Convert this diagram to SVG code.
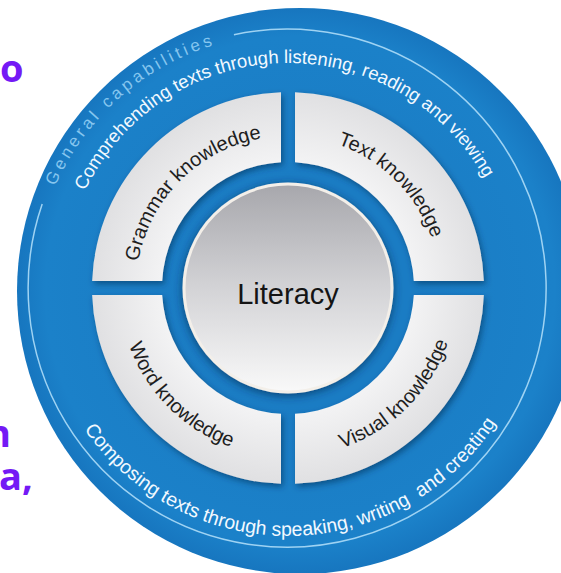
<svg xmlns="http://www.w3.org/2000/svg" xmlns:xlink="http://www.w3.org/1999/xlink" width="561" height="573" viewBox="0 0 561 573">
<style>
.frag{font-family:"Open Sans","DejaVu Sans",sans-serif;font-weight:700;font-size:38px;fill:#7419f5}
.ring{font-family:"Liberation Sans",Arial,sans-serif;fill:#f2f9ff}
.gen{font-family:"Liberation Sans",Arial,sans-serif;font-size:17px;letter-spacing:3.6px;fill:#86c6ef}
.seg{font-family:"Liberation Sans",Arial,sans-serif;font-size:20px;fill:#1e1e1e}
.segshape{fill:url(#segGrad);filter:url(#segShadow)}
</style>
<defs>
<radialGradient id="blueGrad" cx="300" cy="291" r="283" gradientUnits="userSpaceOnUse">
<stop offset="0.4" stop-color="#1a7cc4"/>
<stop offset="0.9" stop-color="#1b81c9"/>
<stop offset="1" stop-color="#1776bf"/>
</radialGradient>
<radialGradient id="segGrad" cx="288" cy="288" r="196" gradientUnits="userSpaceOnUse">
<stop offset="0.64" stop-color="#f3f3f4"/>
<stop offset="1" stop-color="#e0e0e2"/>
</radialGradient>
<linearGradient id="litGrad" x1="0" y1="0" x2="0" y2="1">
<stop offset="0" stop-color="#a7a7ac"/>
<stop offset="0.5" stop-color="#d3d3d6"/>
<stop offset="1" stop-color="#f9f9f9"/>
</linearGradient>
<filter id="segShadow" x="-20%" y="-20%" width="140%" height="140%">
<feDropShadow dx="2" dy="3" stdDeviation="3" flood-color="#06335a" flood-opacity="0.6"/>
</filter>
<filter id="litShadow" x="-20%" y="-20%" width="140%" height="140%">
<feDropShadow dx="0" dy="2" stdDeviation="5" flood-color="#052c4f" flood-opacity="0.7"/>
</filter>
<path id="pTop" d="M 63,288 A 225,225 0 0 1 513,288"/>
<path id="pGen" d="M 34,288 A 254,254 0 0 1 288,34"/>
<path id="pBot" d="M 40,288 A 248,248 0 0 0 536,288"/>
<path id="pGram" d="M 136,288 A 152,152 0 0 1 288,136"/>
<path id="pText" d="M 288,136 A 152,152 0 0 1 440,288"/>
<path id="pWord" d="M 119,288 A 169,169 0 0 0 288,457"/>
<path id="pVis" d="M 288,457 A 169,169 0 0 0 457,288"/>
</defs>
<rect width="561" height="573" fill="#ffffff"/>
<g id="fragments">
<text class="frag" x="0" y="82">o</text>
<text class="frag" x="-14" y="447">h</text>
<text class="frag" x="-1" y="490">a,</text>
</g>
<g id="outer-ring">
<circle cx="300" cy="291" r="283" fill="url(#blueGrad)"/>
<path d="M 233.94,34.7 A 259,259 0 1 1 42.2,204" fill="none" stroke="#9fd3f3" stroke-width="1.5"/>
<text class="gen"><textPath xlink:href="#pGen" startOffset="54%" text-anchor="middle">General capabilities</textPath></text>
<text class="ring" font-size="18.5"><textPath xlink:href="#pTop" startOffset="49%" text-anchor="middle">Comprehending texts through listening, reading and viewing</textPath></text>
<text class="ring" font-size="19.5" style="white-space:pre"><textPath xlink:href="#pBot" startOffset="50.5%" text-anchor="middle">Composing texts through speaking, writing  and creating</textPath></text>
</g>
<g id="grammar-knowledge">
<path class="segshape" d="M 92.13,281 A 196,196 0 0 1 281,92.13 L 281,162.19 A 126,126 0 0 0 162.19,281 Z"/>
<text class="seg"><textPath xlink:href="#pGram" startOffset="50%" text-anchor="middle">Grammar knowledge</textPath></text>
</g>
<g id="text-knowledge">
<path class="segshape" d="M 295,92.13 A 196,196 0 0 1 483.87,281 L 413.81,281 A 126,126 0 0 0 295,162.19 Z"/>
<text class="seg"><textPath xlink:href="#pText" startOffset="50%" text-anchor="middle">Text knowledge</textPath></text>
</g>
<g id="visual-knowledge">
<path class="segshape" d="M 483.87,295 A 196,196 0 0 1 295,483.87 L 295,413.81 A 126,126 0 0 0 413.81,295 Z"/>
<text class="seg"><textPath xlink:href="#pVis" startOffset="50%" text-anchor="middle">Visual knowledge</textPath></text>
</g>
<g id="word-knowledge">
<path class="segshape" d="M 281,483.87 A 196,196 0 0 1 92.13,295 L 162.19,295 A 126,126 0 0 0 281,413.81 Z"/>
<text class="seg"><textPath xlink:href="#pWord" startOffset="50%" text-anchor="middle">Word knowledge</textPath></text>
</g>
<g id="literacy">
<circle cx="288" cy="288" r="104" fill="url(#litGrad)" stroke="#f3efe9" stroke-width="3" filter="url(#litShadow)"/>
<text x="288" y="304" text-anchor="middle" font-family="Liberation Sans, Arial, sans-serif" font-size="29" fill="#141414">Literacy</text>
</g>
</svg>
